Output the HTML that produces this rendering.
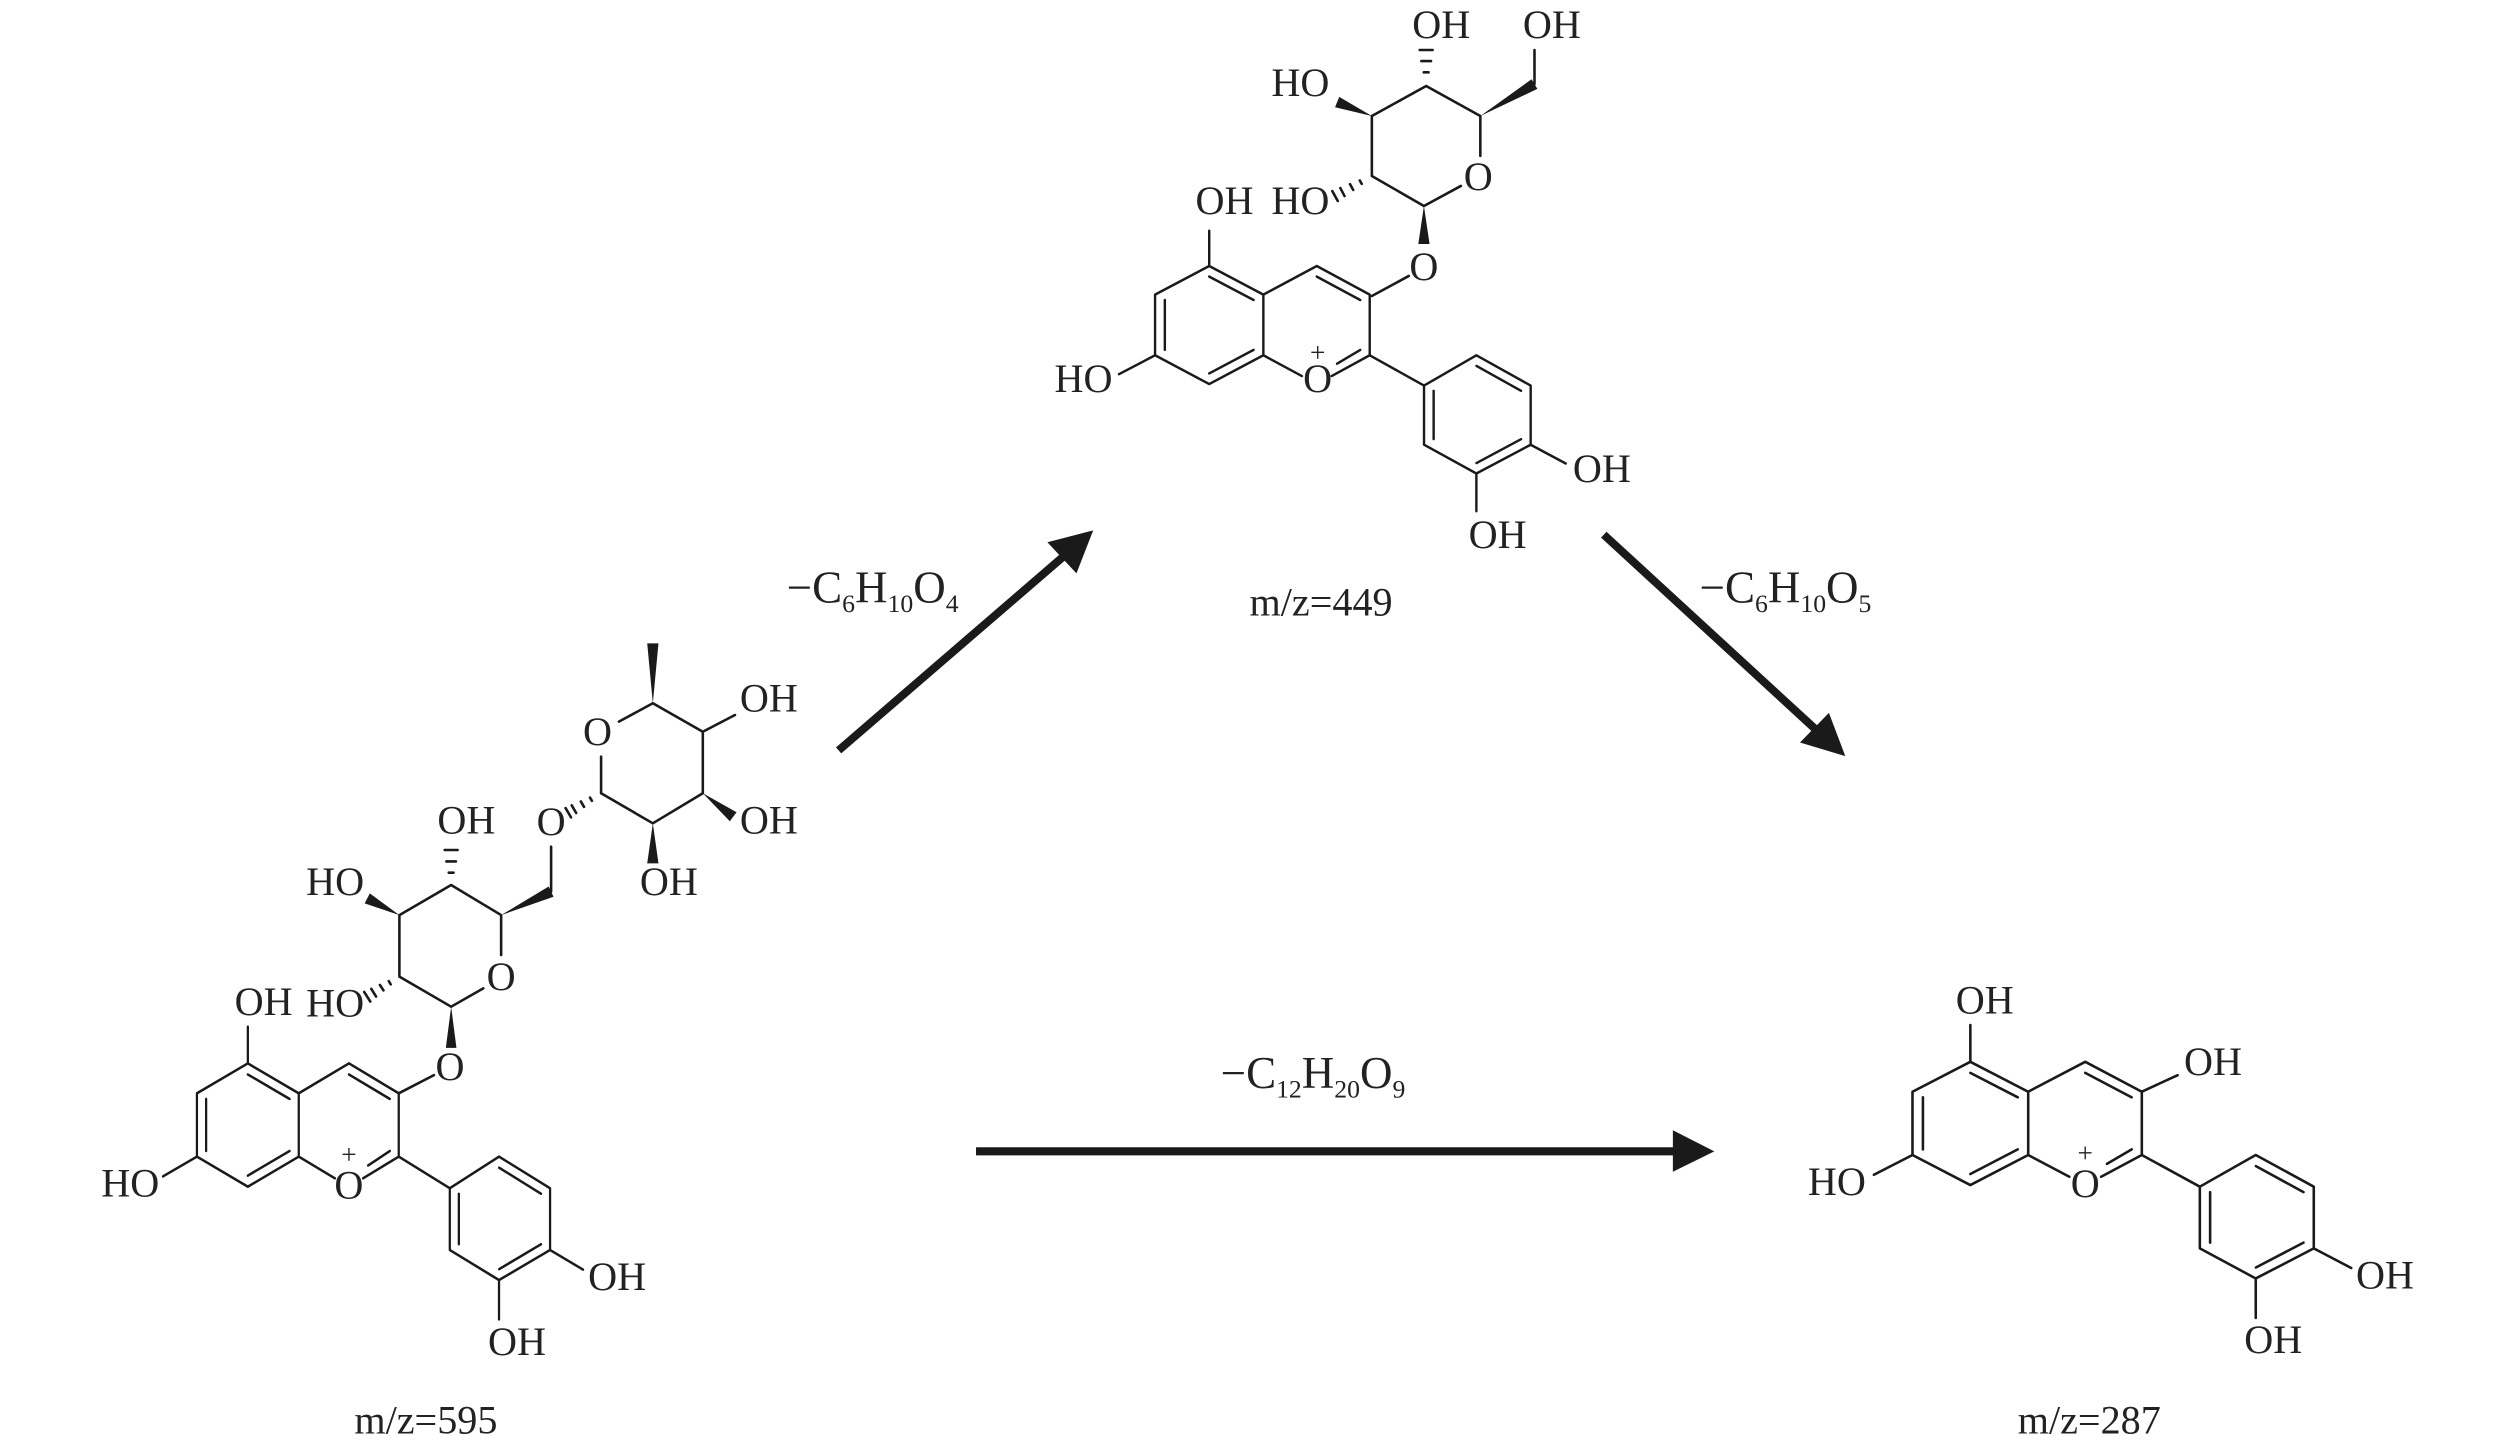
<!DOCTYPE html>
<html><head><meta charset="utf-8"><style>
html,body{margin:0;padding:0;background:#fff;}
svg{display:block;}
text{font-family:"Liberation Serif","DejaVu Serif",serif;fill:#222;}
.l{font-size:25px;text-anchor:middle;}
.f{font-size:28px;text-anchor:middle;}
.p{font-size:17px;text-anchor:middle;}
</style></head><body>
<svg width="2520" height="1448" viewBox="0 0 1568 901" xmlns="http://www.w3.org/2000/svg">
<g fill="none" stroke="#1a1a1a" stroke-width="1.6" stroke-linecap="round" stroke-linejoin="round">
  <!-- core 287 -->
  <g transform="translate(1226,660.7)">
    <path d="M0,0 L-36,18.6 L-36,58 L0,76.7 L36,58 L36,18.6 Z M36,18.6 L71.5,0 L106.7,18.6 L106.7,58 L142.8,77.7 M142.8,77.7 L177.6,58 L213.7,77.7 L213.7,116.1 L177.6,134.8 L142.8,116.1 Z M36,58 L61.6,71.5 M106.7,58 L81.4,71.5 M0,6.9 L29.5,22.1 M-29.5,22.1 L-29.5,54.5 M0,69.8 L29.5,54.5 M71.5,6.9 L100.4,22.1 M100.4,54.5 L85,63.5 M177.7,64.9 L207.3,81.1 M149.2,81.1 L149.2,112.5 M207.3,112.5 L177.7,128 M-36,58 L-60,70.3 M0,0 L0,-22.9 M213.7,116.1 L237,128.3 M177.6,134.8 L177.6,159.3"/>
  </g>
  <path d="M1332.7,679.3 L1355,669"/>
  <!-- core 449 -->
  <g transform="translate(752.4,165.5) scale(0.936,0.958)">
    <path d="M0,0 L-36,18.6 L-36,58 L0,76.7 L36,58 L36,18.6 Z M36,18.6 L71.5,0 L106.7,18.6 L106.7,58 L142.8,77.7 M142.8,77.7 L177.6,58 L213.7,77.7 L213.7,116.1 L177.6,134.8 L142.8,116.1 Z M36,58 L61.6,71.5 M106.7,58 L81.4,71.5 M0,6.9 L29.5,22.1 M-29.5,22.1 L-29.5,54.5 M0,69.8 L29.5,54.5 M71.5,6.9 L100.4,22.1 M100.4,54.5 L85,63.5 M177.7,64.9 L207.3,81.1 M149.2,81.1 L149.2,112.5 M207.3,112.5 L177.7,128 M-36,58 L-60,70.3 M0,0 L0,-22.9 M213.7,116.1 L237,128.3 M177.6,134.8 L177.6,159.3"/>
  </g>
  <path d="M853.6,184.2 L876.6,171.7"/>
  <!-- 449 sugar -->
  <path d="M886,128.2 L909,115.7 M921.1,97 L921.1,72.2 L887.4,53.5 L853.6,72.2 L853.6,109.5 L886,128.2 M954.8,52.3 L954.8,31.1"/>
  <path d="M847.3,114.4 L846.1,112.3 M842,118.2 L840,114.6 M836.6,122 L834,117 M832.4,125.1 L829,118.9"/>
  <path d="M883.4,31.1 L891.4,31.1 M884.4,38 L890.4,38 M885.9,45 L888.9,45"/>
  <!-- core 595 -->
  <g transform="translate(154.2,661.7) scale(0.88,1)">
    <path d="M0,0 L-36,18.6 L-36,58 L0,76.7 L36,58 L36,18.6 Z M36,18.6 L71.5,0 L106.7,18.6 L106.7,58 L142.8,77.7 M142.8,77.7 L177.6,58 L213.7,77.7 L213.7,116.1 L177.6,134.8 L142.8,116.1 Z M36,58 L61.6,71.5 M106.7,58 L81.4,71.5 M0,6.9 L29.5,22.1 M-29.5,22.1 L-29.5,54.5 M0,69.8 L29.5,54.5 M71.5,6.9 L100.4,22.1 M100.4,54.5 L85,63.5 M177.7,64.9 L207.3,81.1 M149.2,81.1 L149.2,112.5 M207.3,112.5 L177.7,128 M-36,58 L-60,70.3 M0,0 L0,-22.9 M213.7,116.1 L237,128.3 M177.6,134.8 L177.6,159.3"/>
  </g>
  <path d="M248.1,680.3 L270,669"/>
  <!-- 595 glucose -->
  <path d="M280.7,626.4 L300.7,615 M311.8,594.2 L311.8,569.4 L280.7,550.7 L248.5,569.4 L248.5,607.7 L280.7,626.4 M342.9,554.8 L342.9,526.8"/>
  <path d="M243.1,612.5 L241.9,610.5 M238.6,616.3 L236.4,612.9 M234,620.1 L231,615.3 M230.4,623.2 L226.6,617.2"/>
  <path d="M276.7,528.9 L284.7,528.9 M277.7,536 L283.7,536 M279.2,543 L282.2,543"/>
  <path d="M368.3,498.3 L367.1,496.3 M363.4,502.1 L361.4,498.7 M358.5,505.9 L355.7,501.1 M355.3,508.6 L351.9,502.8"/>
  <!-- rhamnose -->
  <path d="M374,493.6 L374,470.8 M385.1,449 L406.2,437.6 L437.3,455.3 L437.3,493.6 L406.2,512.3 L374,493.6 M437.3,455.3 L457.3,444.9"/>
</g>
<g fill="#1a1a1a" stroke="none">
  <!-- wedges 449 -->
  <polygon points="886,128.2 889.5,151.8 882.5,151.8"/>
  <polygon points="853.6,72.2 833.3,60.25 830.7,66.75"/>
  <polygon points="921.1,72.2 956.6,55.3 953,49.3"/>
  <!-- wedges 595 -->
  <polygon points="280.7,626.4 284,652 277.4,652"/>
  <polygon points="248.5,569.4 230.1,555.9 226.9,562.1"/>
  <polygon points="311.8,569.4 344.4,558 341.4,551.6"/>
  <polygon points="406.2,437.6 409.7,400.3 402.7,400.3"/>
  <polygon points="437.3,493.6 454.1,511 458.3,505.4"/>
  <polygon points="406.2,512.3 409.7,537.2 402.7,537.2"/>
  <!-- arrow heads -->
  <polygon points="680.2,330 651.7,337.4 669.8,356.8"/>
  <polygon points="1148.2,470.5 1120,462 1138,443.6"/>
  <polygon points="1066.7,716.4 1040.9,703.3 1040.9,729.1"/>
</g>
<g stroke="#1a1a1a" stroke-width="5" fill="none">
  <line x1="521.8" y1="466.9" x2="662" y2="346"/>
  <line x1="997.9" y1="332.7" x2="1131" y2="455"/>
  <line x1="607.3" y1="716.4" x2="1043" y2="716.4"/>
</g>

<!-- labels 287 -->
<text class="l" x="1235" y="630.6">OH</text>
<text class="l" x="1377" y="669">OH</text>
<text class="l" x="1143" y="743.6">HO</text>
<text class="l" x="1297.5" y="744.7">O</text>
<text class="p" x="1297.5" y="723">+</text>
<text class="l" x="1484" y="801.7">OH</text>
<text class="l" x="1414.5" y="842">OH</text>
<text class="l" x="1300" y="892">m/z=287</text>

<!-- labels 449 -->
<text class="l" x="761.9" y="133.2">OH</text>
<text class="l" x="674.2" y="243.9">HO</text>
<text class="l" x="819.9" y="243.9">O</text>
<text class="p" x="819.9" y="225">+</text>
<text class="l" x="996.7" y="300">OH</text>
<text class="l" x="931.9" y="341">OH</text>
<text class="l" x="886" y="174.2">O</text>
<text class="l" x="919.8" y="118.2">O</text>
<text class="l" x="809.1" y="133.2">HO</text>
<text class="l" x="809.1" y="59.7">HO</text>
<text class="l" x="896.8" y="23.6">OH</text>
<text class="l" x="965.6" y="23.6">OH</text>
<text class="l" x="822" y="383">m/z=449</text>

<!-- labels 595 -->
<text class="l" x="164" y="631.6">OH</text>
<text class="l" x="81" y="744.6">HO</text>
<text class="l" x="217.1" y="745.7">O</text>
<text class="p" x="217.1" y="724">+</text>
<text class="l" x="384" y="802.7">OH</text>
<text class="l" x="321.7" y="843">OH</text>
<text class="l" x="280" y="672">O</text>
<text class="l" x="311.8" y="616">O</text>
<text class="l" x="208.5" y="632.6">HO</text>
<text class="l" x="208.5" y="556.9">HO</text>
<text class="l" x="290.2" y="518.5">OH</text>
<text class="l" x="342.9" y="519.6">O</text>
<text class="l" x="371.8" y="463.6">O</text>
<text class="l" x="478.4" y="442.8">OH</text>
<text class="l" x="478.4" y="518.5">OH</text>
<text class="l" x="416.2" y="556.9">OH</text>
<text class="l" x="265" y="892">m/z=595</text>

<!-- loss labels -->
<text class="f" x="543" y="374.9">−C<tspan font-size="16" dy="6">6</tspan><tspan dy="-6">H</tspan><tspan font-size="16" dy="6">10</tspan><tspan dy="-6">O</tspan><tspan font-size="16" dy="6">4</tspan></text>
<text class="f" x="1111" y="374.9">−C<tspan font-size="16" dy="6">6</tspan><tspan dy="-6">H</tspan><tspan font-size="16" dy="6">10</tspan><tspan dy="-6">O</tspan><tspan font-size="16" dy="6">5</tspan></text>
<text class="f" x="817" y="677">−C<tspan font-size="16" dy="6">12</tspan><tspan dy="-6">H</tspan><tspan font-size="16" dy="6">20</tspan><tspan dy="-6">O</tspan><tspan font-size="16" dy="6">9</tspan></text>
</svg>
</body></html>
